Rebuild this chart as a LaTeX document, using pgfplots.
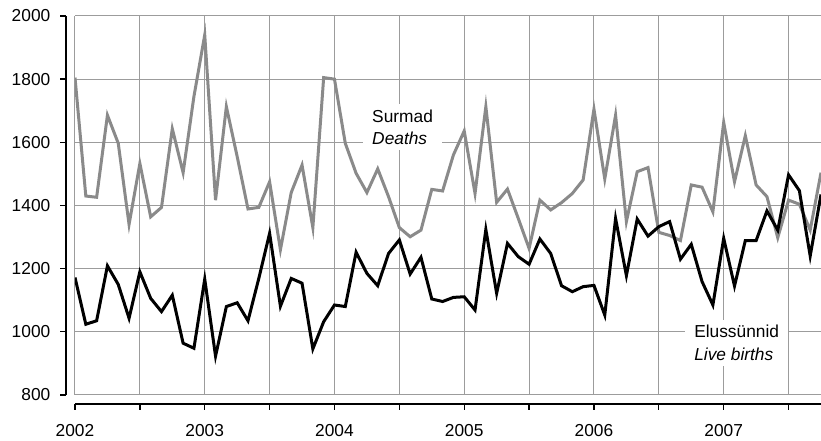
\documentclass[border=0pt]{standalone}
\usepackage{fontspec}
\setmainfont{Liberation Sans}
\usepackage{pgfplots}
\pgfplotsset{compat=1.18}
\usepackage{pgfplotstable}

% monthly figures, m = months since January 2002
\pgfplotstableread{
m deaths births
0  1805 1172
1  1430 1024
2  1426 1035
3  1686 1209
4  1597 1150
5  1340 1043
6  1533 1190
7  1364 1106
8  1394 1064
9  1643 1116
10 1504 964
11 1745 948
12 1940 1167
13 1417 923
14 1713 1080
15 1555 1092
16 1389 1035
17 1394 1169
18 1475 1312
19 1260 1081
20 1441 1169
21 1528 1154
22 1330 946
23 1805 1032
24 1800 1085
25 1597 1080
26 1502 1252
27 1441 1185
28 1516 1146
29 1428 1248
30 1330 1291
31 1301 1183
32 1322 1236
33 1451 1104
34 1446 1096
35 1560 1109
36 1636 1111
37 1438 1069
38 1713 1324
39 1410 1122
40 1452 1280
41 1359 1238
42 1264 1214
43 1417 1294
44 1386 1248
45 1409 1146
46 1438 1127
47 1481 1143
48 1705 1147
49 1484 1053
50 1686 1359
51 1349 1178
52 1507 1357
53 1520 1303
54 1315 1333
55 1305 1349
56 1289 1230
57 1465 1277
58 1458 1159
59 1380 1085
60 1663 1296
61 1475 1145
62 1621 1289
63 1465 1289
64 1428 1383
65 1298 1322
66 1417 1497
67 1404 1447
68 1322 1240
69 1504 1435
}\vital

\definecolor{deathgray}{HTML}{8A8A8A}
\definecolor{gridgray}{HTML}{9C9C9C}

\begin{document}
\begin{tikzpicture}[font=\fontsize{13}{17}\selectfont]
\begin{axis}[
	scale only axis,
	width=559.5pt,
	height=284.25pt,
	xmin=0, xmax=69,
	ymin=800, ymax=2000,
	axis x line*=bottom,
	axis y line*=left,
	axis x line shift=7pt,
	axis y line shift=7pt,
	axis line style={-, line width=1.5pt},
	xtick={0,6,...,66},
	xticklabels={2002,,2003,,2004,,2005,,2006,,2007,},
	ytick={800,1000,...,2000},
	xticklabel style={yshift=-7.5pt},
	yticklabel style={xshift=-4pt},
	tick align=outside,
	major tick length=4pt,
	tick style={black, line width=1pt},
	grid=major,
	major grid style={gridgray, line width=0.75pt},
	/pgf/number format/1000 sep={},
	/pgf/number format/assume math mode=true,
	clip=true]

	\addplot[deathgray, line width=2.25pt] table[x=m, y=deaths]{\vital};
	\addplot[black, line width=2.25pt] table[x=m, y=births]{\vital};

	\node[fill=white, align=left, inner xsep=7pt, inner ysep=4pt] at (axis cs:30.3,1648)
		{Surmad\\\textit{Deaths}};
	\node[fill=white, align=left, inner xsep=7pt, inner ysep=4pt] at (axis cs:61.2,965)
		{Elussünnid\\\textit{Live births}};

	\coordinate (SW) at (rel axis cs:0,0);
\end{axis}
\pgfresetboundingbox
\path[use as bounding box] ([shift={(-56.25pt,-34.5pt)}]SW) rectangle ([shift={(559.5pt,296.25pt)}]SW);
\end{tikzpicture}
\end{document}
